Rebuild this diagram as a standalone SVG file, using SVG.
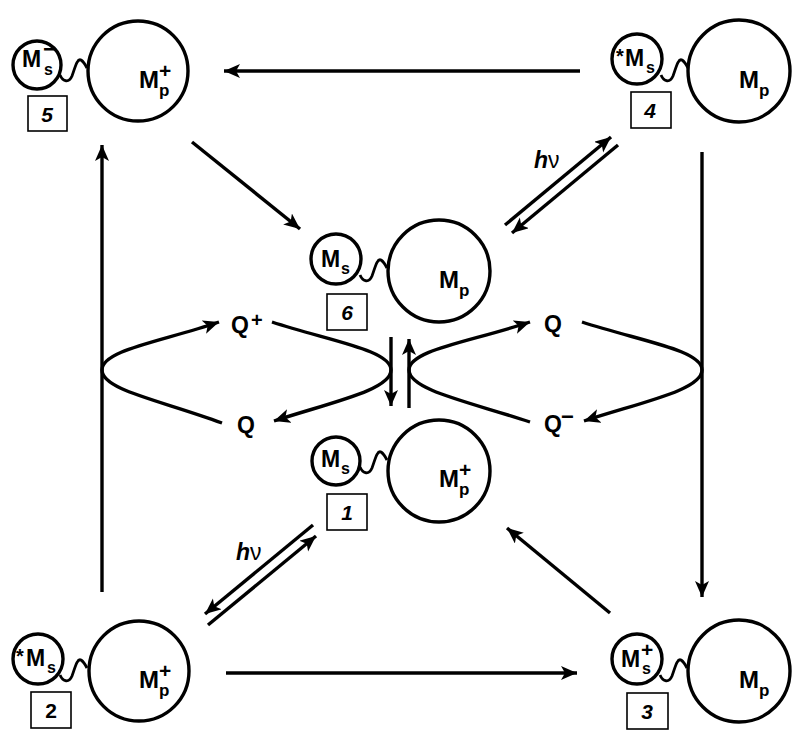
<svg xmlns="http://www.w3.org/2000/svg" width="800" height="751" viewBox="0 0 800 751">
<defs>
<style>
.c{fill:none;stroke:#000;stroke-width:3.4}
.w{fill:none;stroke:#000;stroke-width:2.8}
.b{fill:#fff;stroke:#000;stroke-width:1.6}
.l{fill:none;stroke:#000;stroke-width:3.4}
.m{font-family:"Liberation Sans",Arial,sans-serif;font-weight:bold;fill:#000}
.n{font-family:"Liberation Sans",Arial,sans-serif;font-weight:bold;font-style:italic;font-size:21px;text-anchor:middle;fill:#000}
</style>
<marker id="ah" markerUnits="userSpaceOnUse" markerWidth="18" markerHeight="16" refX="16" refY="7" orient="auto" viewBox="0 0 18 16">
<path d="M0,0 L16,7 L0,14 L4,7 Z" fill="#000"/>
</marker>
</defs>
<rect width="800" height="751" fill="#fff"/>

<g id="connectors">
<line class="l" x1="580" y1="71" x2="224" y2="71" marker-end="url(#ah)"/>
<line class="l" x1="226" y1="673" x2="577" y2="673" marker-end="url(#ah)"/>
<line class="l" x1="102" y1="592" x2="102" y2="145" marker-end="url(#ah)"/>
<line class="l" x1="702" y1="152" x2="702" y2="597" marker-end="url(#ah)"/>
<line class="l" x1="192" y1="142" x2="300" y2="229" marker-end="url(#ah)"/>
<line class="l" x1="610" y1="613" x2="507" y2="528" marker-end="url(#ah)"/>
<line class="l" x1="313" y1="525" x2="205" y2="614" marker-end="url(#ah)"/>
<line class="l" x1="208" y1="625" x2="316" y2="536" marker-end="url(#ah)"/>
<line class="l" x1="505" y1="225" x2="611" y2="137" marker-end="url(#ah)"/>
<line class="l" x1="618" y1="145" x2="512" y2="233" marker-end="url(#ah)"/>
<line class="l" x1="391" y1="337" x2="391" y2="406" marker-end="url(#ah)"/>
<line class="l" x1="409" y1="408" x2="409" y2="339" marker-end="url(#ah)"/>
<path class="l" d="M102,370 C102,350 160,342 219,322" marker-end="url(#ah)"/>
<path class="l" d="M102,370 C102,390 160,400 222,423"/>
<path class="l" d="M272,322 C330,341 391,350 391,370"/>
<path class="l" d="M391,370 C391,390 332,402 274,421" marker-end="url(#ah)"/>
<path class="l" d="M409,370 C409,350 470,342 530,322" marker-end="url(#ah)"/>
<path class="l" d="M409,370 C409,390 470,402 530,422"/>
<path class="l" d="M582,322 C640,341 702,350 702,370"/>
<path class="l" d="M702,370 C702,390 642,402 584,421" marker-end="url(#ah)"/>
</g>

<g id="labels">
<text class="m" font-size="23" x="231" y="333">Q</text>
<text class="m" font-size="20" x="251" y="327">+</text>
<text class="m" font-size="23" x="237" y="433">Q</text>
<text class="m" font-size="23" x="544" y="332">Q</text>
<text class="m" font-size="23" x="544" y="432">Q</text>
<text class="m" font-size="22" x="561" y="424">−</text>
<text class="m" font-size="23" x="236" y="560"><tspan font-style="italic">h</tspan><tspan font-weight="normal">ν</tspan></text>
<text class="m" font-size="23" x="534" y="168"><tspan font-style="italic">h</tspan><tspan font-weight="normal">ν</tspan></text>
</g>

<g id="node5">
<circle class="c" cx="37" cy="65" r="24"/>
<circle class="c" cx="138" cy="71" r="50"/>
<path class="w" d="M60,75 c3,7 9,8 12,1 c3,-8 5,-18 9,-16 c3,2 5,6 6,8"/>
<rect class="b" x="28" y="96" width="39" height="35"/>
<text class="n" x="47" y="122">5</text>
<text class="m" font-size="23" x="22" y="67">M</text>
<text class="m" font-size="16" x="44" y="75">s</text>
<text class="m" font-size="24" x="43" y="57">−</text>
<text class="m" font-size="24" x="139" y="88">M</text>
<text class="m" font-size="17" x="159" y="96">p</text>
<text class="m" font-size="21" x="159" y="78">+</text>
</g>

<g id="node4">
<circle class="c" cx="637" cy="59" r="25"/>
<circle class="c" cx="739" cy="71" r="51"/>
<path class="w" d="M661,75 c3,7 9,8 12,1 c3,-8 5,-18 9,-16 c3,2 5,6 6,8"/>
<rect class="b" x="631" y="92" width="40" height="36"/>
<text class="n" x="650" y="118">4</text>
<text class="m" font-size="20" x="616" y="63">*</text>
<text class="m" font-size="23" x="625" y="66">M</text>
<text class="m" font-size="16" x="646" y="73">s</text>
<text class="m" font-size="24" x="739" y="88">M</text>
<text class="m" font-size="17" x="759" y="96">p</text>
</g>

<g id="node6">
<circle class="c" cx="336" cy="259" r="25"/>
<circle class="c" cx="439" cy="271" r="51"/>
<path class="w" d="M360,275 c3,7 9,8 12,1 c3,-8 5,-18 9,-16 c3,2 5,6 6,8"/>
<rect class="b" x="327" y="294" width="40" height="36"/>
<text class="n" x="347" y="320">6</text>
<text class="m" font-size="23" x="321" y="267">M</text>
<text class="m" font-size="16" x="341" y="274">s</text>
<text class="m" font-size="24" x="439" y="288">M</text>
<text class="m" font-size="17" x="459" y="296">p</text>
</g>

<g id="node1">
<circle class="c" cx="336" cy="461" r="24"/>
<circle class="c" cx="439" cy="471" r="51"/>
<path class="w" d="M360,467 c3,7 9,8 12,1 c3,-8 5,-18 9,-16 c3,2 5,6 6,8"/>
<rect class="b" x="327" y="494" width="40" height="36"/>
<text class="n" x="347" y="520">1</text>
<text class="m" font-size="23" x="321" y="467">M</text>
<text class="m" font-size="16" x="341" y="474">s</text>
<text class="m" font-size="24" x="439" y="487">M</text>
<text class="m" font-size="17" x="459" y="495">p</text>
<text class="m" font-size="21" x="459" y="477">+</text>
</g>

<g id="node2">
<circle class="c" cx="38" cy="659" r="25"/>
<circle class="c" cx="139" cy="671" r="50"/>
<path class="w" d="M60,675 c3,7 9,8 12,1 c3,-8 5,-18 9,-16 c3,2 5,6 6,8"/>
<rect class="b" x="31" y="692" width="40" height="36"/>
<text class="m" font-size="21" text-anchor="middle" x="51" y="718">2</text>
<text class="m" font-size="20" x="16" y="663">*</text>
<text class="m" font-size="23" x="26" y="666">M</text>
<text class="m" font-size="16" x="47" y="673">s</text>
<text class="m" font-size="24" x="139" y="688">M</text>
<text class="m" font-size="17" x="159" y="696">p</text>
<text class="m" font-size="21" x="159" y="678">+</text>
</g>

<g id="node3">
<circle class="c" cx="637" cy="659" r="25"/>
<circle class="c" cx="739" cy="671" r="51"/>
<path class="w" d="M660,675 c3,7 9,8 12,1 c3,-8 5,-18 9,-16 c3,2 5,6 6,8"/>
<rect class="b" x="627" y="693" width="41" height="36"/>
<text class="n" x="647" y="719">3</text>
<text class="m" font-size="23" x="621" y="667">M</text>
<text class="m" font-size="16" x="642" y="674">s</text>
<text class="m" font-size="21" x="641" y="657">+</text>
<text class="m" font-size="24" x="739" y="688">M</text>
<text class="m" font-size="17" x="759" y="696">p</text>
</g>
</svg>
